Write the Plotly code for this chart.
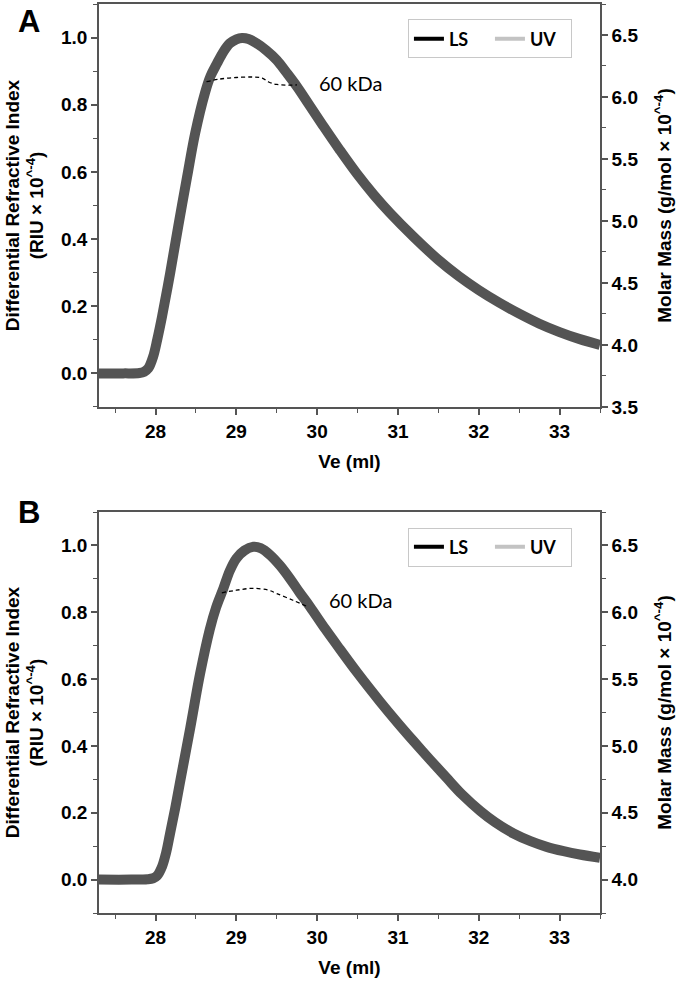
import plotly.graph_objects as go

# ---------------- data ----------------
ve_a = [27.3, 27.6, 27.8, 27.86, 27.91, 27.97, 28.02, 28.08, 28.18, 28.28, 28.39, 28.49, 28.61, 28.68,
        28.76, 28.84, 28.92, 29.0, 29.07, 29.15, 29.25, 29.37, 29.5, 29.62, 29.75, 29.9, 30.08, 30.28,
        30.49, 30.7, 30.9, 31.2, 31.5, 31.75, 32.0, 32.25, 32.5, 32.75, 33.0, 33.25, 33.5]
ri_a = [0.0, 0.0, 0.001, 0.005, 0.015, 0.05, 0.1, 0.169, 0.298, 0.437, 0.585, 0.715, 0.834, 0.885,
        0.923, 0.958, 0.983, 0.995, 0.999, 0.996, 0.983, 0.962, 0.933, 0.896, 0.854, 0.8, 0.735, 0.665,
        0.595, 0.532, 0.478, 0.405, 0.338, 0.29, 0.248, 0.211, 0.178, 0.148, 0.123, 0.102, 0.085]
mm_ve_a = [28.63, 28.8, 29.0, 29.2, 29.32, 29.4, 29.5, 29.75]
mm_a = [6.123, 6.145, 6.157, 6.161, 6.153, 6.121, 6.101, 6.097]

ve_b = [27.3, 27.7, 27.9, 27.97, 28.02, 28.08, 28.13, 28.18, 28.24, 28.30, 28.43, 28.55, 28.67, 28.75,
        28.84, 28.92, 29.0, 29.1, 29.21, 29.3, 29.42, 29.54, 29.66, 29.78, 29.91, 30.1, 30.28, 30.5,
        30.78, 31.0, 31.19, 31.4, 31.6, 31.8, 32.02, 32.2, 32.43, 32.64, 32.84, 33.05, 33.25, 33.5]
ri_b = [0.0, 0.0, 0.001, 0.004, 0.012, 0.039, 0.08, 0.139, 0.21, 0.288, 0.455, 0.615, 0.748, 0.815,
        0.872, 0.925, 0.961, 0.985, 0.996, 0.992, 0.971, 0.94, 0.902, 0.86, 0.817, 0.75, 0.69, 0.618,
        0.532, 0.468, 0.415, 0.358, 0.305, 0.253, 0.205, 0.172, 0.138, 0.115, 0.098, 0.085, 0.075, 0.065]
mm_ve_b = [28.82, 29.0, 29.2, 29.4, 29.5, 29.7, 29.87]
mm_b = [6.146, 6.165, 6.179, 6.165, 6.14, 6.09, 6.045]

x_ticks = [28, 29, 30, 31, 32, 33]
legend_names = ["LS", "UV"]
legend_colors = ["#000000", "#c3c3c3"]
mass_label = "60 kDa"

# ---------------- figure ----------------
AX = "#555555"
CURVE = "#545454"
fig = go.Figure()

def panel(ve, ri, mve, mm, xa, ya, ya2, leg):
    fig.add_trace(go.Scatter(x=ve, y=ri, mode="lines", line=dict(color=CURVE, width=10, shape="spline", smoothing=1.0),
                             xaxis=xa, yaxis=ya, showlegend=False, name="dRI"))
    fig.add_trace(go.Scatter(x=mve, y=mm, mode="lines", line=dict(color="#000000", width=1.3, dash="4px,3px", shape="spline"),
                             xaxis=xa, yaxis=ya2, showlegend=False, name="Molar mass"))
    for n, c in zip(legend_names, legend_colors):
        fig.add_trace(go.Scatter(x=[None], y=[None], mode="lines", line=dict(color=c, width=4),
                                 name=n, xaxis=xa, yaxis=ya, legend=leg, showlegend=True))

panel(ve_a, ri_a, mm_ve_a, mm_a, "x", "y", "y2", "legend")
panel(ve_b, ri_b, mm_ve_b, mm_b, "x2", "y3", "y4", "legend2")

tickfont = dict(family="Arial, Liberation Sans", size=19, color="#000000", weight="bold")
titlefont = dict(family="Arial, Liberation Sans", size=19, color="#000000", weight="bold")

def xaxis(anchor):
    return dict(range=[27.3, 33.5], anchor=anchor, tickvals=x_ticks, ticks="outside", ticklen=6, tickwidth=1.5,
                tickcolor=AX, showline=True, linecolor=AX, linewidth=1.5, mirror=True, showgrid=False, zeroline=False,
                minor=dict(dtick=0.5, ticks="outside", ticklen=4, tickcolor=AX, tickwidth=1.2),
                tickfont=tickfont, automargin=False,
                title=dict(text="Ve (ml)", font=titlefont, standoff=14))

def yleft(anchor, dom):
    return dict(range=[-0.1, 1.1], domain=dom, anchor=anchor, dtick=0.2, tickformat=".1f", ticks="outside", ticklen=6,
                tickwidth=1.5, tickcolor=AX, showline=True, linecolor=AX, linewidth=1.5, showgrid=False, zeroline=False,
                minor=dict(dtick=0.1, ticks="outside", ticklen=4, tickcolor=AX, tickwidth=1.2),
                tickfont=tickfont, automargin=False,
                title=dict(text="Differential Refractive Index<br>(RIU × 10<sup>^-4</sup>)", font=titlefont, standoff=12))

def yright(anchor, over, rng, tick0):
    return dict(range=rng, anchor=anchor, overlaying=over, side="right", tick0=tick0, dtick=0.5, tickformat=".1f",
                ticks="outside", ticklen=6, tickwidth=1.5, tickcolor=AX, showline=True, linecolor=AX, linewidth=1.5,
                showgrid=False, zeroline=False, automargin=False,
                minor=dict(dtick=0.25, ticks="outside", ticklen=4, tickcolor=AX, tickwidth=1.2),
                tickfont=tickfont,
                title=dict(text="Molar Mass (g/mol × 10<sup>^-4</sup>)", font=titlefont, standoff=20))

legfont = dict(family="Lato, Open Sans", size=18, color="#000000", weight="bold")
def legend(y):
    return dict(x=0.944, xanchor="right", y=y, yanchor="top", orientation="h", bgcolor="#ffffff",
                bordercolor="#c8c8c8", borderwidth=1, font=legfont, entrywidth=36, itemwidth=30,
                tracegroupgap=0)

fig.update_layout(
    width=685, height=985, margin=dict(l=99, r=85, t=4, b=72, autoexpand=False),
    paper_bgcolor="#ffffff", plot_bgcolor="#ffffff",
    xaxis=xaxis("y"), yaxis=yleft("x", [0.5567, 1.0]), yaxis2=yright("x", "y", [3.5, 6.75], 3.5),
    xaxis2=xaxis("y3"), yaxis3=yleft("x2", [0.0, 0.4411]), yaxis4=yright("x2", "y3", [3.75, 6.75], 4.0),
    legend=legend(0.983), legend2=legend(0.424),
)

annfont = dict(family="Lato, Open Sans", size=20, color="#000000")
fig.add_annotation(x=30.41, y=0.865, xref="x", yref="y", text=mass_label, showarrow=False, font=annfont,
                   xanchor="center", yanchor="middle")
fig.add_annotation(x=30.54, y=0.837, xref="x2", yref="y3", text=mass_label, showarrow=False, font=annfont,
                   xanchor="center", yanchor="middle")
plab = dict(family="Arial, Liberation Sans", size=31, color="#000000", weight="bold")
fig.add_annotation(x=-0.14, y=0.981, xref="paper", yref="paper", text="A", showarrow=False, font=plab,
                   xanchor="center", yanchor="middle")
fig.add_annotation(x=-0.14, y=0.441, xref="paper", yref="paper", text="B", showarrow=False, font=plab,
                   xanchor="center", yanchor="middle")

fig.write_html("out.html", config={"displayModeBar": False},
               post_script="document.body.style.margin='0px';document.body.style.overflow='hidden';")
